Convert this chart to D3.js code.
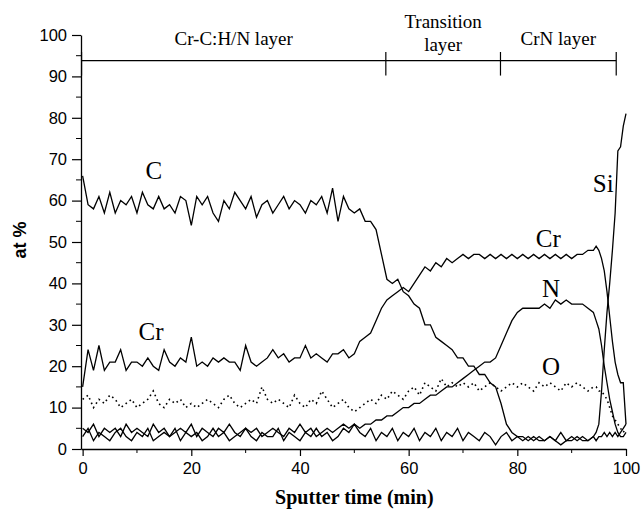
<!DOCTYPE html>
<html>
<head>
<meta charset="utf-8">
<script src="https://cdn.jsdelivr.net/npm/d3@7"></script>
<style>
  body { margin: 0; background: #fff; }
  svg { display: block; }
</style>
</head>
<body>
<svg id="chart"></svg>
<script>
// sputter time samples (min)
const time = [
    0, 1, 2, 3, 4, 5, 6, 7, 8, 9,
    10, 11, 12, 13, 14, 15, 16, 17, 18, 19,
    20, 21, 22, 23, 24, 25, 26, 27, 28, 29,
    30, 31, 32, 33, 34, 35, 36, 37, 38, 39,
    40, 41, 42, 43, 44, 45, 46, 47, 48, 49,
    50, 51, 52, 53, 54, 55, 56, 57, 58, 59,
    60, 61, 62, 63, 64, 65, 66, 67, 68, 69,
    70, 71, 72, 73, 74, 75, 76, 77, 78, 79,
    80, 81, 82, 83, 84, 85, 86, 87, 88, 89,
    90, 91, 92, 93, 94,
    94.5, 95, 95.5, 96, 96.5, 97, 97.5, 98, 98.5, 99, 99.5, 100
];

// at % per element
const cData = [
    66, 59, 58, 61, 57, 62, 57, 60, 59, 61,
    57, 62, 59, 58, 61, 58, 59, 57, 61, 60,
    54, 61, 59, 61, 57, 55, 60, 58, 62, 60,
    58, 61, 56, 59, 60, 57, 59, 61, 58, 60,
    59, 57, 60, 59, 61, 57, 63, 55, 61, 58,
    57, 58, 55, 55, 53, 47, 41, 40, 41, 38,
    37, 35, 34, 30, 30, 27, 26, 25, 24, 22,
    22, 20, 20, 18, 18, 16, 15, 11, 6, 4,
    3, 3, 2, 3, 2, 2, 3, 2, 1, 2,
    2, 3, 2, 2, 3,
    2, 3, 3, 4, 3, 4, 3, 4, 3, 4, 5, 6
];
const crData = [
    15, 24, 19, 25, 19, 21, 21, 24, 19, 21,
    21, 20, 22, 20, 19, 24, 21, 20, 22, 21,
    27, 20, 21, 20, 22, 21, 22, 21, 21, 19,
    25, 21, 20, 21, 22, 24, 22, 23, 21, 22,
    22, 25, 22, 23, 22, 21, 23, 23, 24, 22,
    23, 26, 27, 28, 31, 34, 36, 37, 38, 39,
    38, 40, 42, 44, 43, 45, 44, 46, 45, 46,
    47, 46, 47, 47, 46, 47, 46, 47, 46, 47,
    46, 47, 46, 47, 46, 47, 46, 47, 46, 47,
    46, 47, 47, 48, 48,
    49, 48, 46, 43, 38, 32, 26, 21, 18, 16, 16, 6
];
const nData = [
    5, 4, 6, 3, 5, 4, 5, 3, 6, 4,
    5, 4, 3, 6, 4, 5, 3, 4, 5, 4,
    6, 3, 5, 4, 3, 5, 4, 6, 4, 3,
    5, 4, 5, 3, 4, 5, 4, 3, 5, 4,
    6, 4, 5, 3, 4, 5, 4, 5, 6, 5,
    6, 5, 6, 6, 7, 7, 8, 8, 9, 10,
    10, 11, 11, 12, 13, 13, 14, 15, 15, 16,
    17, 18, 19, 20, 21, 21, 22, 25, 28, 31,
    33, 34, 34, 34, 34, 35, 34, 36, 35, 36,
    35, 35, 35, 34, 33,
    31, 29, 25, 20, 16, 12, 9, 6, 4, 3, 3, 4
];
const oData = [
    12, 13, 10, 12, 11, 13, 12, 10, 11, 12,
    10, 11, 12, 14, 11, 10, 12, 11, 12, 10,
    11, 10, 11, 12, 11, 10, 12, 13, 11, 10,
    11, 12, 11, 15, 12, 11, 12, 11, 10, 13,
    11, 10, 12, 11, 14, 12, 10, 11, 12, 10,
    9, 10, 11, 12, 11, 13, 12, 14, 13, 12,
    14, 15, 13, 16, 15, 14, 17, 15, 16, 15,
    16, 15, 16, 14, 15, 16, 15, 14, 15, 16,
    15, 16, 15, 14, 16, 15, 16, 15, 14, 16,
    15, 16, 15, 14, 15,
    15, 14, 14, 13, 12, 10, 8, 7, 6, 5, 4, 5
];
const siData = [
    3, 5, 2, 4, 3, 2, 4, 5, 3, 2,
    4, 3, 5, 2, 3, 4, 3, 5, 2, 4,
    3, 4, 2, 3, 5, 3, 4, 2, 3, 4,
    5, 3, 2, 4, 3, 3, 5, 2, 4, 3,
    2, 4, 3, 5, 3, 4, 2, 3, 5, 4,
    6, 4, 3, 5, 2, 4, 3, 5, 2, 4,
    3, 5, 2, 4, 3, 5, 2, 4, 3, 5,
    2, 4, 3, 2, 4, 3, 1, 3, 4, 2,
    3, 2, 3, 2, 3, 2, 3, 2, 4, 2,
    3, 2, 3, 2, 3,
    4, 6, 14, 24, 33, 40, 48, 57, 72, 73, 78, 81
];

// layer bar at the top
const layerBounds = [-0.2, 55.8, 76.9, 98.2];
const layerNames = [['Cr-C:H/N layer'], ['Transition', 'layer'], ['CrN layer']];
const layerLevel = 93.8;

// curve labels [text, time, at %]
const curveLabels = [
    ['C', 13.1, 65.2],
    ['Cr', 12.6, 26.3],
    ['Cr', 85.7, 48.8],
    ['N', 86.2, 36.7],
    ['O', 86.2, 17.9],
    ['Si', 95.8, 62.1]
];

const W = 642, H = 515;
const sans = '"Liberation Sans", Arial, sans-serif';
const serif = '"Liberation Serif", "Times New Roman", serif';

const svg = d3.select('#chart').attr('width', W).attr('height', H);

const x = d3.scaleLinear().domain([-0.3, 100]).range([81, 626]);
const y = d3.scaleLinear().domain([0, 100]).range([449, 35]);

// axes: major ticks with labels, minor ticks in between
const xAxis = svg.append('g').attr('transform', `translate(0, ${y(0)})`);
xAxis.call(d3.axisBottom(x).tickValues(d3.range(0, 101, 20)).tickSize(7).tickSizeOuter(0).tickPadding(6));
xAxis.selectAll('.minor').data(d3.range(10, 100, 20)).join('line')
    .attr('class', 'minor')
    .attr('x1', d => x(d)).attr('x2', d => x(d))
    .attr('y1', 0).attr('y2', 4)
    .attr('stroke', '#000');

const yAxis = svg.append('g').attr('transform', `translate(${x(-0.3)}, 0)`);
yAxis.call(d3.axisLeft(y).tickValues(d3.range(0, 101, 10)).tickSize(9).tickSizeOuter(0).tickPadding(5));
yAxis.selectAll('.minor').data(d3.range(5, 100, 10)).join('line')
    .attr('class', 'minor')
    .attr('x1', 0).attr('x2', -5)
    .attr('y1', d => y(d)).attr('y2', d => y(d))
    .attr('stroke', '#000');

svg.selectAll('.domain').attr('stroke', '#000').attr('stroke-width', 1.3);
svg.selectAll('.tick line').attr('stroke', '#000').attr('stroke-width', 1.2);
svg.selectAll('.tick text')
    .attr('fill', '#000')
    .style('font-family', sans)
    .style('font-size', '16.5px');

// axis titles
svg.append('text')
    .attr('x', (x(0) + x(100)) / 2)
    .attr('y', 504)
    .attr('text-anchor', 'middle')
    .style('font-family', serif)
    .style('font-size', '20px')
    .style('font-weight', 'bold')
    .text('Sputter time (min)');

svg.append('text')
    .attr('transform', 'translate(26, 240) rotate(-90)')
    .attr('text-anchor', 'middle')
    .style('font-family', sans)
    .style('font-size', '18px')
    .style('font-weight', 'bold')
    .text('at %');

// curves
const series = [
    { values: cData, dash: null },
    { values: crData, dash: null },
    { values: nData, dash: null },
    { values: siData, dash: null },
    { values: oData, dash: '1.6,3.4' }
];

const line = d3.line()
    .x((d, i) => x(time[i]))
    .y(d => y(d));

svg.append('g')
    .selectAll('path')
    .data(series)
    .join('path')
    .attr('d', d => line(d.values))
    .attr('fill', 'none')
    .attr('stroke', '#000')
    .attr('stroke-width', d => d.dash ? 1.6 : 1.3)
    .attr('stroke-linejoin', 'miter')
    .attr('stroke-dasharray', d => d.dash);

// curve labels
svg.append('g')
    .selectAll('text')
    .data(curveLabels)
    .join('text')
    .attr('x', d => x(d[1]))
    .attr('y', d => y(d[2]))
    .attr('text-anchor', 'middle')
    .style('font-family', serif)
    .style('font-size', '25px')
    .text(d => d[0]);

// layer bar
const layerG = svg.append('g');
layerG.append('line')
    .attr('x1', x(layerBounds[0])).attr('x2', x(layerBounds[layerBounds.length - 1]))
    .attr('y1', y(layerLevel)).attr('y2', y(layerLevel))
    .attr('stroke', '#000').attr('stroke-width', 1.2);
layerG.selectAll('.bound').data(layerBounds).join('line')
    .attr('class', 'bound')
    .attr('x1', d => x(d)).attr('x2', d => x(d))
    .attr('y1', y(95.9)).attr('y2', y(90.2))
    .attr('stroke', '#000').attr('stroke-width', 1.2);

layerNames.forEach((lines, i) => {
    const cx = (x(layerBounds[i]) + x(layerBounds[i + 1])) / 2;
    const t = layerG.append('text')
        .attr('text-anchor', 'middle')
        .style('font-family', serif)
        .style('font-size', '19px');
    lines.forEach((s, j) => {
        t.append('tspan')
            .attr('x', cx)
            .attr('y', lines.length === 1 ? 45 : 28 + j * 23)
            .text(s);
    });
});
</script>
</body>
</html>
